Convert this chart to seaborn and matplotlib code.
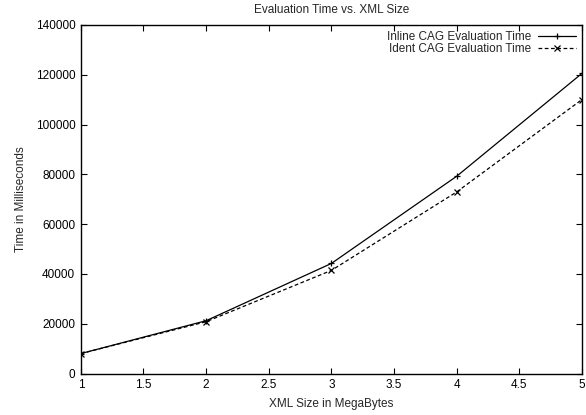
import matplotlib
matplotlib.use("Agg")
import matplotlib.pyplot as plt
import seaborn as sns
import pandas as pd

sizes = [1, 2, 3, 4, 5]
inline_times = [8000, 21200, 44200, 79200, 120500]
ident_times = [8000, 20800, 41400, 72900, 110000]
series_names = ["Inline CAG Evaluation Time", "Ident CAG Evaluation Time"]
x_ticks = [1, 1.5, 2, 2.5, 3, 3.5, 4, 4.5, 5]
y_ticks = [0, 20000, 40000, 60000, 80000, 100000, 120000, 140000]

sns.set_style("ticks")
plt.rcParams['font.family'] = ['Liberation Sans', 'DejaVu Sans']
plt.rcParams['font.size'] = 8.5

fig = plt.figure(figsize=(5.86, 4.15), dpi=100)
ax = fig.add_axes([0.138, 0.1, 0.855, 0.84])

df_inline = pd.DataFrame({"x": sizes, "y": inline_times})
df_ident = pd.DataFrame({"x": sizes, "y": ident_times})

sns.lineplot(data=df_inline, x="x", y="y", ax=ax, color="black", lw=0.9,
             marker="+", markersize=5, markeredgewidth=0.9,
             markeredgecolor="black", label=series_names[0])
sns.lineplot(data=df_ident, x="x", y="y", ax=ax, color="black", lw=0.9,
             linestyle=(0, (3, 2)), marker="x", markersize=4, markeredgewidth=0.9,
             markeredgecolor="black", label=series_names[1])

ax.set_xlim(1, 5)
ax.set_ylim(0, 140000)
ax.set_xticks(x_ticks)
ax.set_xticklabels([f"{t:g}" for t in x_ticks])
ax.set_yticks(y_ticks)
ax.set_yticklabels([str(t) for t in y_ticks])
ax.tick_params(direction="in", top=True, right=True, length=4, width=0.8,
               labelsize=8.5, colors="black", pad=4)
for s in ax.spines.values():
    s.set_visible(True)
    s.set_linewidth(1.0)
    s.set_color("black")

ax.set_xlabel("XML Size in MegaBytes", fontsize=8.5, labelpad=5)
ax.set_ylabel("Time in Milliseconds", fontsize=8.5, labelpad=6)
ax.set_title("Evaluation Time vs. XML Size", fontsize=8.5, pad=8.5)

leg = ax.legend(loc="upper right", frameon=False, markerfirst=False, fontsize=8.5,
                handlelength=3.2, handletextpad=0.6, borderaxespad=0.1,
                labelspacing=0.0)
for t in leg.get_texts():
    t.set_ha("right")

fig.savefig("out.png", dpi=100)
